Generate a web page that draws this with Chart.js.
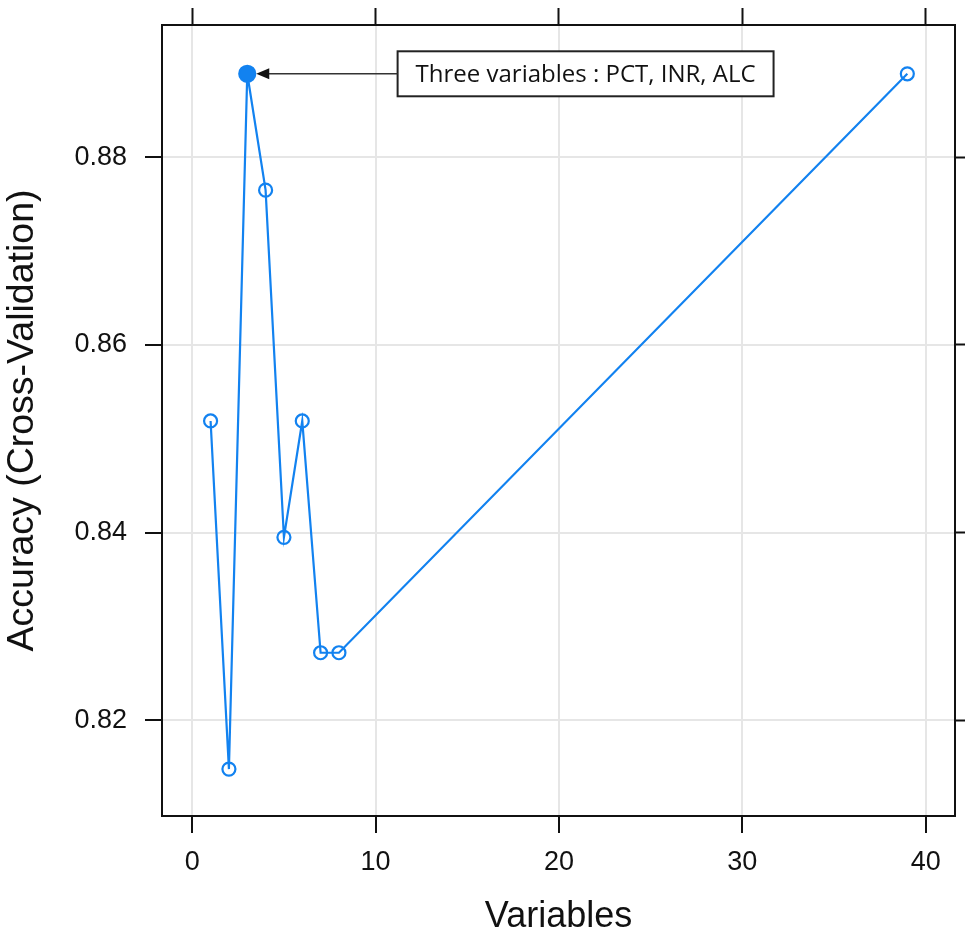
<!DOCTYPE html>
<html>
<head>
<meta charset="utf-8">
<title>Accuracy vs number of variables</title>
<script src="https://cdn.jsdelivr.net/npm/chart.js@4.4.1/dist/chart.umd.min.js"></script>
<style>
  html, body { margin: 0; padding: 0; background: #fff; }
  canvas { display: block; }
</style>
</head>
<body>
<canvas id="acc-chart" width="965" height="939"></canvas>
<script>
// variables kept at each step and the cross-validated accuracy
var variables = [1, 2, 3, 4, 5, 6, 7, 8, 39];
var accuracy = [0.8519, 0.8148, 0.8889, 0.8765, 0.8395, 0.8519, 0.8272, 0.8272, 0.8889];
var xTicks = [0, 10, 20, 30, 40];
var yTicks = [0.82, 0.84, 0.86, 0.88];
var noteText = "Three variables : PCT, INR, ALC";
var noteBoxX = 11.2; // left edge of the note box, in x units

var blue = "#1282f0";
var bestIdx = accuracy.indexOf(Math.max.apply(null, accuracy));
var xRange = { min: -1.65, max: 41.6 };
var yRange = { min: 0.8098, max: 0.8941 };

var points = variables.map(function (v, i) { return { x: v, y: accuracy[i] }; });

// fixes the size of an axis box so the plot frame lands where we want it,
// and drops the extra room Chart.js keeps for edge labels
function fixSize(w, h) {
  return function (scale) {
    if (w !== null) scale.width = w;
    if (h !== null) scale.height = h;
    scale.paddingTop = 0;
    scale.paddingBottom = 0;
    scale.paddingLeft = 0;
    scale.paddingRight = 0;
  };
}
function setTicks(list) {
  return function (scale) {
    scale.ticks = list.map(function (v) { return { value: v }; });
  };
}

var tickFont = { family: "'Liberation Sans', Arial, sans-serif", size: 27 };
var xTitleFont = { family: "'Liberation Sans', Arial, sans-serif", size: 36 };
var yTitleFont = { family: "'Liberation Sans', Arial, sans-serif", size: 37.5 };

// boxed note with an arrow pointing at the best subset
var notePlugin = {
  id: "note",
  afterDatasetsDraw: function (chart) {
    var ctx = chart.ctx, xs = chart.scales.x, ys = chart.scales.y;
    var px = xs.getPixelForValue(variables[bestIdx]);
    var py = ys.getPixelForValue(accuracy[bestIdx]);
    ctx.save();
    ctx.font = "24px 'Open Sans', 'Noto Sans', sans-serif";
    var tw = ctx.measureText(noteText).width;
    var bx = xs.getPixelForValue(noteBoxX);
    var bw = tw + 36, bh = 45;
    ctx.fillStyle = "#fff";
    ctx.fillRect(bx, py - bh / 2, bw, bh);
    ctx.strokeStyle = "#222";
    ctx.lineWidth = 2;
    ctx.strokeRect(bx, py - bh / 2, bw, bh);

    var tip = px + 9;
    ctx.beginPath();
    ctx.moveTo(bx, py);
    ctx.lineTo(tip + 10, py);
    ctx.lineWidth = 1.6;
    ctx.strokeStyle = "#333";
    ctx.stroke();
    ctx.beginPath();
    ctx.moveTo(tip, py);
    ctx.lineTo(tip + 13, py - 5.5);
    ctx.lineTo(tip + 13, py + 5.5);
    ctx.closePath();
    ctx.fillStyle = "#111";
    ctx.fill();

    ctx.fillStyle = "#111";
    ctx.textAlign = "center";
    ctx.textBaseline = "middle";
    ctx.fillText(noteText, bx + bw / 2, py + 1);
    ctx.restore();
  }
};

var gridMain = { color: "#e6e6e6", lineWidth: 2, tickColor: "#111", tickWidth: 2, tickLength: 17 };
var gridSide = { drawOnChartArea: false, tickColor: "#111", tickWidth: 2, tickLength: 17 };
var border = { display: true, color: "#111", width: 2 };

new Chart(document.getElementById("acc-chart"), {
  type: "scatter",
  data: {
    datasets: [{
      data: points,
      showLine: true,
      borderColor: blue,
      borderWidth: 2.2,
      pointStyle: "circle",
      pointRadius: points.map(function (p, i) { return i === bestIdx ? 8 : 6.5; }),
      pointBorderWidth: 2.2,
      pointBorderColor: blue,
      pointBackgroundColor: points.map(function (p, i) { return i === bestIdx ? blue : "rgba(0,0,0,0)"; }),
      pointHoverRadius: 6.5
    }]
  },
  options: {
    responsive: false,
    animation: false,
    layout: { padding: 0 },
    plugins: { legend: { display: false }, tooltip: { enabled: false } },
    scales: {
      x: {
        type: "linear", position: "bottom", min: xRange.min, max: xRange.max,
        afterBuildTicks: setTicks(xTicks), afterFit: fixSize(null, 123),
        grid: gridMain, border: border,
        ticks: { font: tickFont, color: "#111", padding: 13, maxRotation: 0,
                 callback: function (v) { return String(v); } },
        title: { display: true, text: "Variables", font: xTitleFont, color: "#111", padding: 0 }
      },
      x2: {
        type: "linear", position: "top", min: xRange.min, max: xRange.max,
        afterBuildTicks: setTicks(xTicks), afterFit: fixSize(null, 25),
        grid: gridSide, border: border, ticks: { display: false }
      },
      y: {
        type: "linear", position: "left", min: yRange.min, max: yRange.max,
        afterBuildTicks: setTicks(yTicks), afterFit: fixSize(162, null),
        grid: gridMain, border: border,
        ticks: { font: tickFont, color: "#111", padding: 18,
                 callback: function (v) { return v.toFixed(2); } },
        title: { display: true, text: "Accuracy (Cross-Validation)", font: yTitleFont, color: "#111", padding: 0 }
      },
      y2: {
        type: "linear", position: "right", min: yRange.min, max: yRange.max,
        afterBuildTicks: setTicks(yTicks), afterFit: fixSize(10, null),
        grid: gridSide, border: border, ticks: { display: false }
      }
    }
  },
  plugins: [notePlugin]
});
</script>
</body>
</html>
